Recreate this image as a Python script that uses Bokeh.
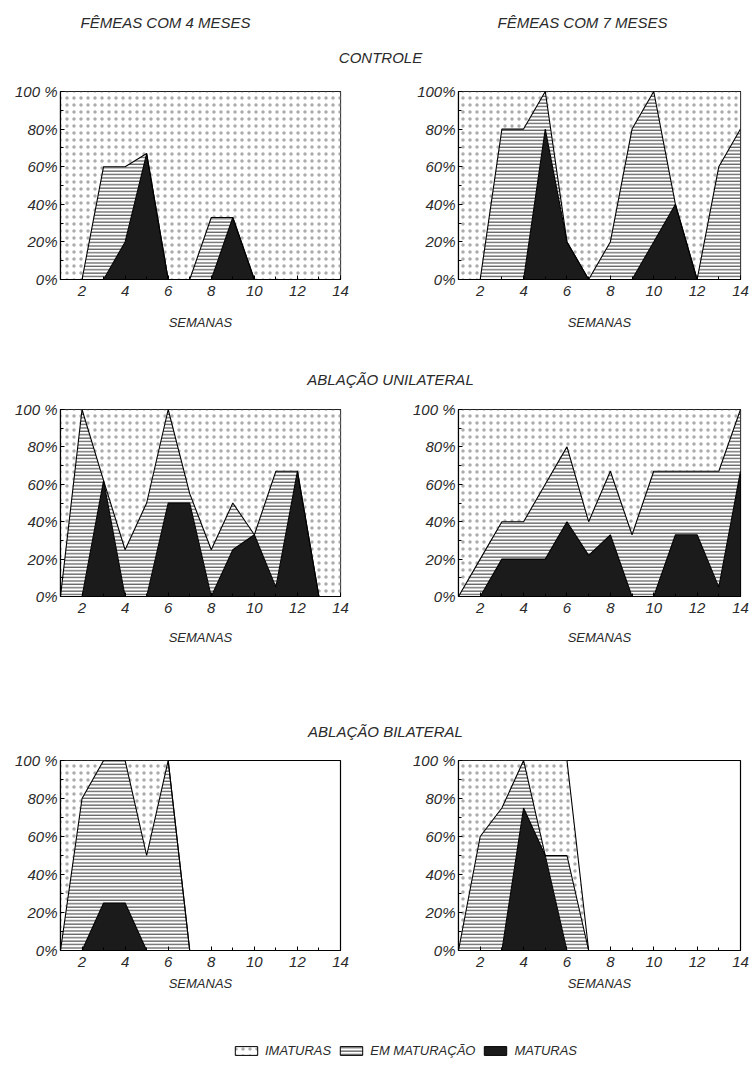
from bokeh.plotting import figure
from bokeh.models import Range1d, FixedTicker, ColumnDataSource, Label, Legend, LegendItem
from bokeh.layouts import column, row
from bokeh.transform import stack
from bokeh.embed import file_html
from bokeh.resources import INLINE

# ---------------- data (percent of females per stage, by week) ----------------
weeks = list(range(1, 15))
weeks_bil = list(range(1, 8))
x_ticks = [2, 4, 6, 8, 10, 12, 14]
y_ticks = [0, 20, 40, 60, 80, 100]

# Controle, 4 meses
c4_maturas = [0, 0, 0, 20, 67, 0, 0, 0, 33, 0, 0, 0, 0, 0]
c4_emmat = [0, 0, 60, 40, 0, 0, 0, 33, 0, 0, 0, 0, 0, 0]
c4_imaturas = [100, 100, 40, 40, 33, 100, 100, 67, 67, 100, 100, 100, 100, 100]
# Controle, 7 meses
c7_maturas = [0, 0, 0, 0, 80, 20, 0, 0, 0, 20, 40, 0, 0, 0]
c7_emmat = [0, 0, 80, 80, 20, 0, 0, 20, 80, 80, 0, 0, 60, 80]
c7_imaturas = [100, 100, 20, 20, 0, 80, 100, 80, 20, 0, 60, 100, 40, 20]
# Ablação unilateral, 4 meses
u4_maturas = [0, 0, 62, 0, 0, 50, 50, 0, 25, 33, 5, 67, 0, 0]
u4_emmat = [0, 100, 0, 25, 50, 50, 5, 25, 25, 0, 62, 0, 0, 0]
u4_imaturas = [100, 0, 38, 75, 50, 0, 45, 75, 50, 67, 33, 33, 100, 100]
# Ablação unilateral, 7 meses
u7_maturas = [0, 0, 20, 20, 20, 40, 22, 33, 0, 0, 33, 33, 5, 67]
u7_emmat = [0, 20, 20, 20, 40, 40, 18, 34, 33, 67, 34, 34, 62, 33]
u7_imaturas = [100, 80, 60, 60, 40, 20, 60, 33, 67, 33, 33, 33, 33, 0]
# Ablação bilateral, 4 meses (weeks 1-7)
b4_maturas = [0, 0, 25, 25, 0, 0, 0]
b4_emmat = [0, 80, 75, 75, 50, 100, 0]
b4_imaturas = [100, 20, 0, 0, 50, 0, 0]
# Ablação bilateral, 7 meses (weeks 1-7)
b7_maturas = [0, 0, 0, 75, 50, 0, 0]
b7_emmat = [0, 60, 75, 25, 0, 50, 0]
b7_imaturas = [100, 40, 25, 0, 50, 50, 0]

legend_labels = ["IMATURAS", "EM MATURAÇÃO", "MATURAS"]

FONT = "Liberation Sans"
INK = "#2a2a2a"
BLACK_FILL = "#1b1b1b"

STYLE_MAT = dict(fill_color=BLACK_FILL)
STYLE_EM = dict(fill_color="white", hatch_pattern="horizontal_line", hatch_color="#333333",
                hatch_scale=3.4, hatch_weight=1.0)
STYLE_IM = dict(fill_color="white", hatch_pattern="dot", hatch_color="#ababab",
                hatch_scale=7, hatch_weight=0.5)


def panel(x, mat, em, im, width, bl, br, bt, fh, bb, lab_standoff, axlab_standoff, hundred="100 %"):
    p = figure(width=width, height=bt + fh + bb, x_range=Range1d(1, 14), y_range=Range1d(0, 100),
               output_backend="svg", toolbar_location=None,
               min_border_left=bl, min_border_right=br, min_border_top=bt, min_border_bottom=bb)
    src = ColumnDataSource(dict(x=x, m=mat, e=em, i=im))
    p.varea(x="x", y1=stack(), y2=stack("m"), source=src, **STYLE_MAT)
    p.varea(x="x", y1=stack("m"), y2=stack("m", "e"), source=src, **STYLE_EM)
    p.varea(x="x", y1=stack("m", "e"), y2=stack("m", "e", "i"), source=src, **STYLE_IM)
    for ys in (stack("m"), stack("m", "e"), stack("m", "e", "i")):
        p.line(x="x", y=ys, source=src, line_color="black", line_width=1.1)

    p.xgrid.visible = False
    p.ygrid.visible = False
    p.xaxis.ticker = FixedTicker(ticks=x_ticks, minor_ticks=weeks)
    p.yaxis.ticker = FixedTicker(ticks=y_ticks, minor_ticks=list(range(0, 101, 10)))
    labels = {v: f"{v}%" for v in y_ticks}
    labels[100] = hundred
    p.yaxis.major_label_overrides = labels
    p.axis.major_tick_in = 4
    p.axis.major_tick_out = 0
    p.axis.minor_tick_in = 3
    p.axis.minor_tick_out = 0
    p.axis.axis_line_color = "black"
    p.axis.axis_line_width = 1.2
    p.axis.major_tick_line_color = "black"
    p.axis.minor_tick_line_color = "black"
    p.axis.major_label_text_font = FONT
    p.axis.major_label_text_font_style = "italic"
    p.axis.major_label_text_font_size = "15px"
    p.axis.major_label_text_color = INK
    p.xaxis.major_label_standoff = lab_standoff
    p.yaxis.major_label_standoff = 3
    p.xaxis.axis_label = "SEMANAS"
    p.xaxis.axis_label_text_font = FONT
    p.xaxis.axis_label_text_font_style = "italic"
    p.xaxis.axis_label_text_font_size = "13px"
    p.xaxis.axis_label_text_color = INK
    p.xaxis.axis_label_standoff = axlab_standoff
    p.outline_line_color = "black"
    p.outline_line_width = 1.2
    p.outline_line_alpha = 1.0
    p.background_fill_color = "white"
    p.border_fill_color = "white"
    return p


def header(height, texts):
    h = figure(width=750, height=height, x_range=Range1d(0, 750), y_range=Range1d(0, height),
               output_backend="svg", toolbar_location=None, x_axis_location=None,
               y_axis_location=None, min_border=0)
    h.outline_line_color = None
    h.xgrid.visible = False
    h.ygrid.visible = False
    for (tx, px, py) in texts:
        h.add_layout(Label(x=px, y=py, text=tx, text_align="center", text_baseline="middle",
                           text_font=FONT, text_font_style="italic", text_font_size="15px",
                           text_color=INK))
    return h


h1 = header(80, [("FÊMEAS COM 4 MESES", 165, 58), ("FÊMEAS COM 7 MESES", 582, 58),
                 ("CONTROLE", 380, 23)])
p1 = panel(weeks, c4_maturas, c4_emmat, c4_imaturas, 375, 60, 35, 11, 188, 61, 6, 16)
p2 = panel(weeks, c7_maturas, c7_emmat, c7_imaturas, 375, 83, 10, 11, 188, 61, 6, 16, hundred="100%")

h2 = header(58, [("ABLAÇÃO UNILATERAL", 390, 19)])
p3 = panel(weeks, u4_maturas, u4_emmat, u4_imaturas, 375, 60, 35, 11, 187, 64, 6, 14)
p4 = panel(weeks, u7_maturas, u7_emmat, u7_imaturas, 375, 83, 10, 11, 187, 64, 6, 14)

h3 = header(88, [("ABLAÇÃO BILATERAL", 385, 17)])
p5 = panel(weeks_bil, b4_maturas, b4_emmat, b4_imaturas, 375, 60, 35, 12, 190, 60, 6, 6)
p6 = panel(weeks_bil, b7_maturas, b7_emmat, b7_imaturas, 375, 83, 10, 12, 190, 60, 6, 6)

# legend strip (legend glyphs drawn from off-range swatches)
lf = figure(width=750, height=52, x_range=Range1d(0, 1), y_range=Range1d(0, 1),
            output_backend="svg", toolbar_location=None, x_axis_location=None,
            y_axis_location=None, min_border=0)
lf.outline_line_color = None
lf.xgrid.visible = False
lf.ygrid.visible = False
sw = dict(left=[5], right=[6], bottom=[5], top=[6], line_color="black", line_width=1)
r_im = lf.quad(**sw, **STYLE_IM)
r_em = lf.quad(**sw, **STYLE_EM)
r_mat = lf.quad(**sw, **STYLE_MAT)
leg = Legend(items=[LegendItem(label=legend_labels[0], renderers=[r_im]),
                    LegendItem(label=legend_labels[1], renderers=[r_em]),
                    LegendItem(label=legend_labels[2], renderers=[r_mat])],
             orientation="horizontal", location=(232, 4), padding=0, margin=0,
             spacing=6, label_standoff=5, glyph_width=28, glyph_height=11,
             label_height=12, label_text_font=FONT, label_text_font_style="italic",
             label_text_font_size="13px", label_text_color=INK,
             border_line_color=None, background_fill_alpha=0)
lf.add_layout(leg)

layout = column(h1, row(p1, p2), h2, row(p3, p4), h3, row(p5, p6), lf, spacing=0)

open("out.html", "w").write(file_html(layout, INLINE))
